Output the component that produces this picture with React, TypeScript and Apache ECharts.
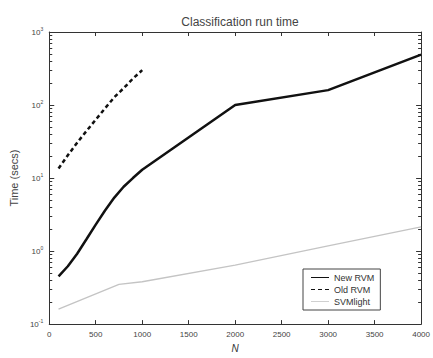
import React, { useEffect, useRef } from "react";
import * as echarts from "echarts";

const TITLE = "Classification run time";
const X_NAME = "N";
const Y_NAME = "Time (secs)";
const SERIES_NAMES = ["New RVM", "Old RVM", "SVMlight"];

const N_NEW = [100, 200, 300, 400, 500, 600, 700, 800, 900, 1000, 2000, 3000, 4000];
const T_NEW = [0.45, 0.62, 0.92, 1.45, 2.3, 3.6, 5.4, 7.6, 10, 13, 100, 160, 490];

const N_OLD = [100, 200, 300, 400, 500, 600, 700, 800, 900, 1000];
const T_OLD = [13.5, 20.5, 30.5, 44, 63, 90, 128, 170, 230, 300];

const N_SVM = [100, 750, 1000, 2000, 3000, 4000];
const T_SVM = [0.16, 0.35, 0.38, 0.64, 1.18, 2.15];

const MINOR_Y = [
  0.2, 0.3, 0.4, 0.5, 0.6, 0.7, 0.8, 0.9,
  2, 3, 4, 5, 6, 7, 8, 9,
  20, 30, 40, 50, 60, 70, 80, 90,
  200, 300, 400, 500, 600, 700, 800, 900,
];

const ICON_SOLID = "path://M0,0h18v1h-18z";
const ICON_DASH = "path://M0,0h4v1h-4zM7,0h4v1h-4zM14,0h4v1h-4z";

const zip = (xs: number[], ys: number[]) => xs.map((x, i) => [x, ys[i]]);

export default function App() {
  const ref = useRef<HTMLDivElement>(null);
  useEffect(() => {
    if (!ref.current) return;
    const chart = echarts.init(ref.current, undefined, { renderer: "svg" });
    const axisColor = "#333";
    const font = "Liberation Sans, Arial, sans-serif";
    const yBase = {
      type: "log",
      logBase: 10,
      min: 0.1,
      max: 1000,
      splitLine: { show: false },
    };
    chart.setOption({
      animation: false,
      backgroundColor: "#fff",
      textStyle: { fontFamily: font },
      title: {
        text: TITLE,
        left: 235,
        textAlign: "center",
        top: 11,
        textStyle: { fontSize: 12, fontWeight: "normal", color: "#444", fontFamily: font },
      },
      grid: { left: 45, right: 8, top: 32, bottom: 26, containLabel: false },
      legend: {
        left: 303,
        top: 269,
        orient: "vertical",
        itemWidth: 18,
        itemHeight: 2.5,
        itemGap: 3,
        padding: [4, 6, 4, 8],
        borderColor: "#444",
        borderWidth: 1,
        backgroundColor: "#fff",
        textStyle: { fontSize: 9, color: "#333", fontFamily: font },
        data: [
          { name: SERIES_NAMES[0], icon: ICON_SOLID, itemStyle: { color: "#111" } },
          { name: SERIES_NAMES[1], icon: ICON_DASH, itemStyle: { color: "#111" } },
          { name: SERIES_NAMES[2], icon: ICON_SOLID, itemStyle: { color: "#d0d0d0" } },
        ],
      },
      xAxis: [
        {
          type: "value",
          min: 0,
          max: 4000,
          interval: 500,
          position: "bottom",
          name: X_NAME,
          nameLocation: "middle",
          nameGap: 15,
          nameTextStyle: { fontStyle: "italic", fontSize: 10, color: "#333" },
          axisLine: { show: true, lineStyle: { color: axisColor, width: 1 } },
          axisTick: { show: true, inside: true, length: 4, lineStyle: { color: axisColor } },
          axisLabel: { fontSize: 8, color: "#444", margin: 6, formatter: (v: number) => String(v) },
          splitLine: { show: false },
        },
        {
          type: "value",
          min: 0,
          max: 4000,
          interval: 500,
          position: "top",
          axisLine: { show: true, lineStyle: { color: axisColor, width: 1 } },
          axisTick: { show: true, inside: true, length: 4, lineStyle: { color: axisColor } },
          axisLabel: { show: false },
          splitLine: { show: false },
        },
      ],
      yAxis: [
        {
          ...yBase,
          position: "left",
          name: Y_NAME,
          nameLocation: "middle",
          nameGap: 27,
          nameTextStyle: { fontSize: 11, color: "#444" },
          axisLine: { show: true, lineStyle: { color: axisColor, width: 1 } },
          axisTick: { show: true, inside: true, length: 5, lineStyle: { color: axisColor } },
          axisLabel: {
            margin: 6,
            color: "#444",
            formatter: (v: number) => "10{sup|" + Math.round(Math.log10(v)) + "}",
            rich: {
              sup: { fontSize: 5, color: "#444", padding: [0, 0, 6, 0] },
            },
            fontSize: 8,
          },
        },
        {
          ...yBase,
          position: "left",
          axisLine: { show: false },
          axisTick: {
            show: true,
            inside: true,
            length: 3,
            customValues: MINOR_Y,
            lineStyle: { color: axisColor },
          },
          axisLabel: { show: false },
        },
        {
          ...yBase,
          position: "right",
          axisLine: { show: true, lineStyle: { color: axisColor, width: 1 } },
          axisTick: { show: true, inside: true, length: 5, lineStyle: { color: axisColor } },
          axisLabel: { show: false },
        },
        {
          ...yBase,
          position: "right",
          axisLine: { show: false },
          axisTick: {
            show: true,
            inside: true,
            length: 3,
            customValues: MINOR_Y,
            lineStyle: { color: axisColor },
          },
          axisLabel: { show: false },
        },
      ],
      series: [
        {
          name: SERIES_NAMES[0],
          type: "line",
          xAxisIndex: 0,
          yAxisIndex: 0,
          data: zip(N_NEW, T_NEW),
          symbol: "none",
          lineStyle: { color: "#111", width: 2.5, type: "solid" },
          itemStyle: { color: "#111" },
        },
        {
          name: SERIES_NAMES[1],
          type: "line",
          xAxisIndex: 0,
          yAxisIndex: 0,
          data: zip(N_OLD, T_OLD),
          symbol: "none",
          lineStyle: { color: "#111", width: 2.5, type: [4, 3] },
          itemStyle: { color: "#111" },
        },
        {
          name: SERIES_NAMES[2],
          type: "line",
          xAxisIndex: 0,
          yAxisIndex: 0,
          data: zip(N_SVM, T_SVM),
          symbol: "none",
          lineStyle: { color: "#c4c4c4", width: 1.3, type: "solid" },
          itemStyle: { color: "#c4c4c4" },
        },
      ],
    });
    return () => chart.dispose();
  }, []);
  return <div ref={ref} style={{ width: 433, height: 358, position: "absolute", left: 0, top: 0 }} />;
}
